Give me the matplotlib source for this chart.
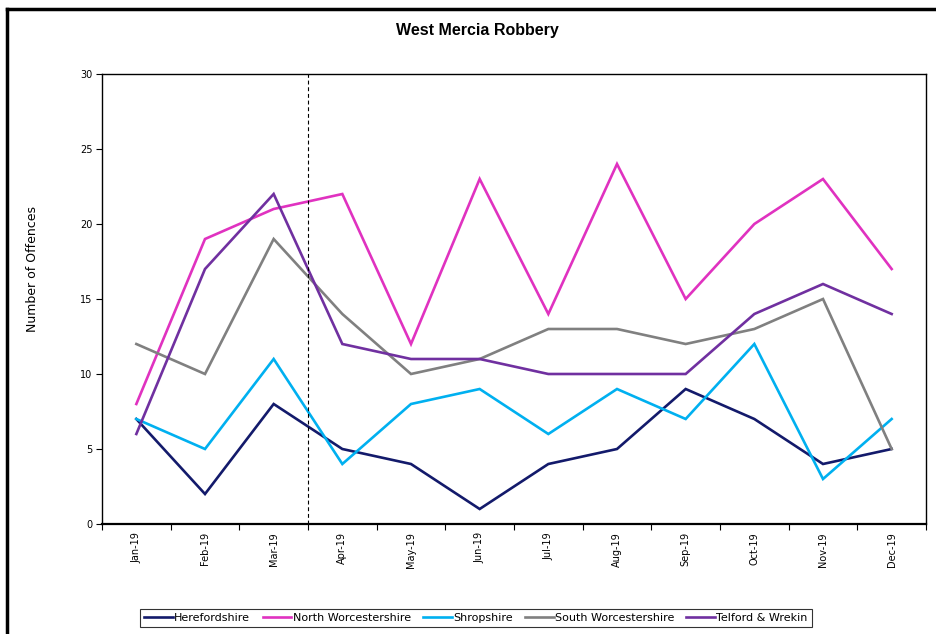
import matplotlib
matplotlib.use('Agg')
import matplotlib.pyplot as plt
from matplotlib.lines import Line2D

months = ['Jan-19', 'Feb-19', 'Mar-19', 'Apr-19', 'May-19', 'Jun-19',
          'Jul-19', 'Aug-19', 'Sep-19', 'Oct-19', 'Nov-19', 'Dec-19']

herefordshire = [7, 2, 8, 5, 4, 1, 4, 5, 9, 7, 4, 5]
north_worcs = [8, 19, 21, 22, 12, 23, 14, 24, 15, 20, 23, 17]
shropshire = [7, 5, 11, 4, 8, 9, 6, 9, 7, 12, 3, 7]
south_worcs = [12, 10, 19, 14, 10, 11, 13, 13, 12, 13, 15, 5]
telford = [6, 17, 22, 12, 11, 11, 10, 10, 10, 14, 16, 14]

series = [
    ('Herefordshire', herefordshire, '#131a6b'),
    ('North Worcestershire', north_worcs, '#e032c0'),
    ('Shropshire', shropshire, '#00b0f0'),
    ('South Worcestershire', south_worcs, '#808080'),
    ('Telford & Wrekin', telford, '#7030a0'),
]

plt.rcParams['font.family'] = ['DejaVu Sans']

fig = plt.figure(figsize=(9.36, 6.34), dpi=100)
ax = fig.add_axes([102 / 936, 1 - 524 / 634, 824 / 936, 450 / 634])

x = list(range(len(months)))
for name, vals, col in series:
    ax.plot(x, vals, color=col, lw=1.9, label=name, solid_joinstyle='miter')

# dashed marker between Mar and Apr
ax.axvline(2.5, color='black', lw=0.8, ls=(0, (3.5, 2.5)))

ax.set_xlim(-0.5, len(months) - 0.5)
ax.set_ylim(0, 30)
ax.set_yticks(range(0, 31, 5))
ax.set_yticklabels([str(v) for v in range(0, 31, 5)], fontsize=7)

# ticks at category boundaries, labels at centres
ax.set_xticks([i - 0.5 for i in range(len(months) + 1)])
ax.set_xticklabels([])
ax.set_xticks(x, minor=True)
ax.set_xticklabels(months, minor=True, rotation=90, fontsize=7)
ax.tick_params(axis='x', which='minor', length=0, pad=6)
ax.tick_params(axis='x', which='major', length=4, width=0.8, direction='out')
ax.tick_params(axis='y', length=4, width=0.8, direction='out', pad=3)

for sp in ax.spines.values():
    sp.set_linewidth(1.0)
ax.spines['bottom'].set_linewidth(1.6)

fig.text(477 / 936, 1 - 31 / 634, 'West Mercia Robbery', ha='center', va='center',
         fontsize=11.5, fontweight='bold', family='Liberation Sans')
fig.text(33 / 936, 1 - 269 / 634, 'Number of Offences', rotation=90, ha='center',
         va='center', fontsize=9)

leg = fig.legend(loc='center', bbox_to_anchor=(476 / 936, 1 - 618 / 634), ncol=5,
                 fontsize=8, frameon=True, fancybox=False, edgecolor='black',
                 handlelength=2.6, handletextpad=0.1, columnspacing=1.1,
                 borderpad=0.35)
leg.get_frame().set_linewidth(0.8)

# outer chart frame (cut off at right and bottom)
fig.add_artist(Line2D([7 / 936, 7 / 936], [0, 1 - 9 / 634], color='black', lw=2.5,
                      transform=fig.transFigure))
fig.add_artist(Line2D([7 / 936, 1], [1 - 9 / 634, 1 - 9 / 634], color='black', lw=2.5,
                      transform=fig.transFigure))

fig.savefig('out.png', dpi=100)
